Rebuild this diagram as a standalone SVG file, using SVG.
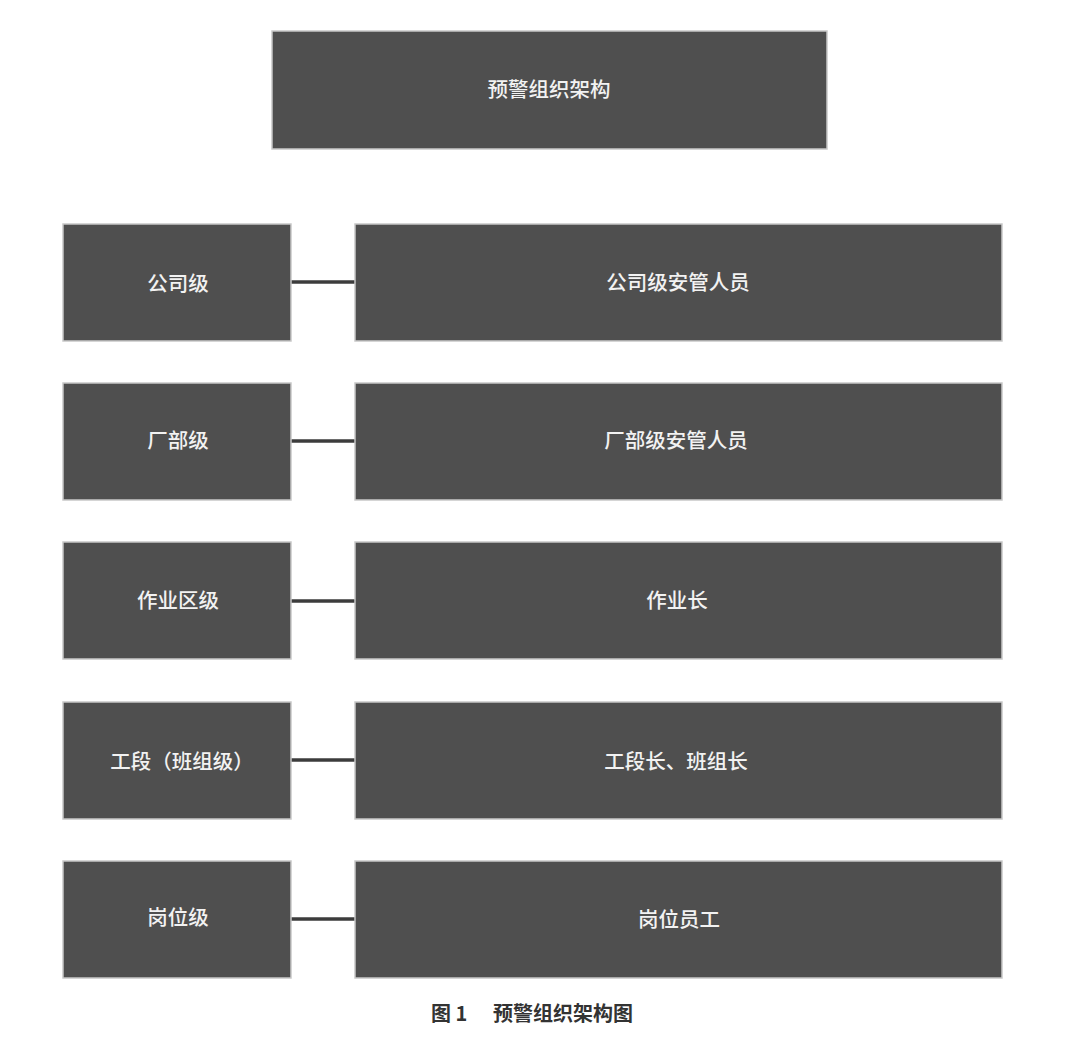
<svg xmlns="http://www.w3.org/2000/svg" width="1080" height="1051" viewBox="0 0 1080 1051">
<style>
.box{fill:#4f4f4f;stroke:#c8c8c8;stroke-width:1.5}
.t{fill:#f2f2f2;font-family:"Noto Sans CJK SC","Noto Sans",sans-serif;font-size:20.5px;font-weight:500;text-anchor:middle;dominant-baseline:central}
.c{stroke:#3c3c3c;stroke-width:3.5}
.cap{fill:#333;font-family:"Noto Sans CJK SC","Noto Sans",sans-serif;font-size:20px;font-weight:700;dominant-baseline:central}
</style>
<rect width="1080" height="1051" fill="#fff"/>
<g id="top"><rect class="box" x="272" y="31" width="555" height="118"/><text class="t" x="549" y="88">预警组织架构</text></g>
<g id="connectors">
<line class="c" x1="291" y1="282" x2="355" y2="282"/>
<line class="c" x1="291" y1="441" x2="355" y2="441"/>
<line class="c" x1="291" y1="601" x2="355" y2="601"/>
<line class="c" x1="291" y1="760" x2="355" y2="760"/>
<line class="c" x1="291" y1="919" x2="355" y2="919"/>
</g>
<g id="l1"><rect class="box" x="63" y="224" width="228" height="117"/><text class="t" x="178" y="282">公司级</text></g>
<g id="r1"><rect class="box" x="355" y="224" width="647" height="117"/><text class="t" x="678" y="281">公司级安管人员</text></g>
<g id="l2"><rect class="box" x="63" y="383" width="228" height="117"/><text class="t" x="178" y="439">厂部级</text></g>
<g id="r2"><rect class="box" x="355" y="383" width="647" height="117"/><text class="t" x="676" y="439">厂部级安管人员</text></g>
<g id="l3"><rect class="box" x="63" y="542" width="228" height="117"/><text class="t" x="178" y="599">作业区级</text></g>
<g id="r3"><rect class="box" x="355" y="542" width="647" height="117"/><text class="t" x="677" y="599">作业长</text></g>
<g id="l4"><rect class="box" x="63" y="702" width="228" height="117"/><text class="t" x="182" y="760">工段（班组级）</text></g>
<g id="r4"><rect class="box" x="355" y="702" width="647" height="117"/><text class="t" x="676" y="760">工段长、班组长</text></g>
<g id="l5"><rect class="box" x="63" y="861" width="228" height="117"/><text class="t" x="178" y="916">岗位级</text></g>
<g id="r5"><rect class="box" x="355" y="861" width="647" height="117"/><text class="t" x="679" y="918">岗位员工</text></g>
<text class="cap" x="431" y="1012">图 1</text>
<text class="cap" x="493" y="1012">预警组织架构图</text>
</svg>
